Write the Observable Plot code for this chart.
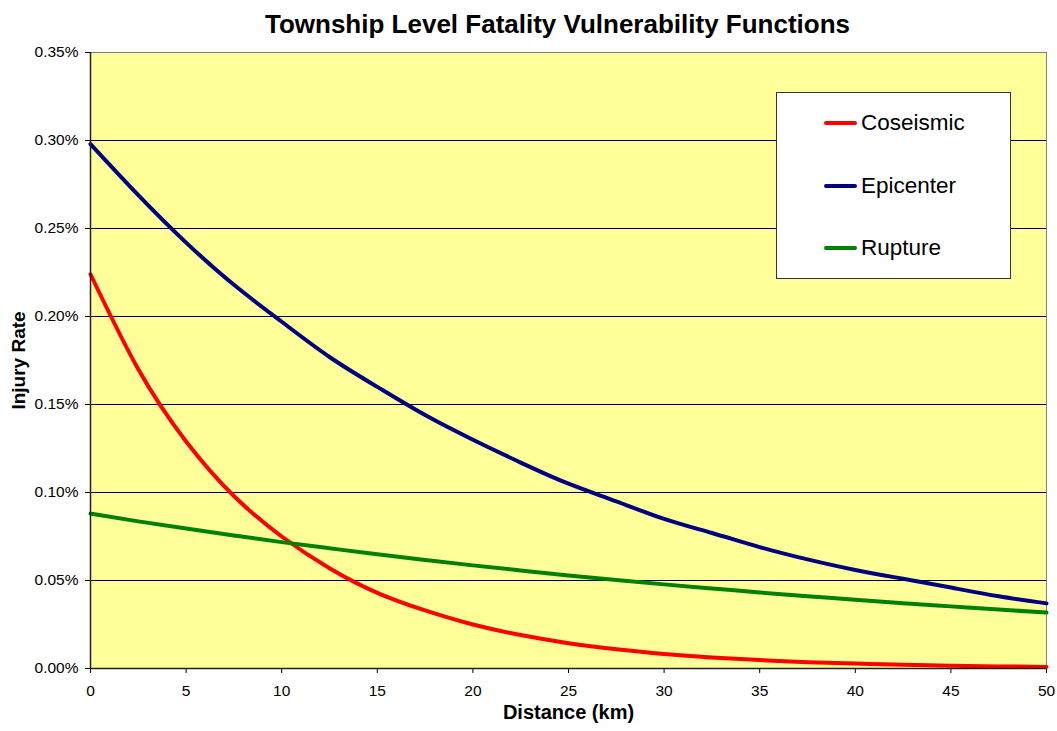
<!DOCTYPE html>
<html>
<head>
<meta charset="utf-8">
<script src="https://cdn.jsdelivr.net/npm/d3@7"></script>
<script src="https://cdn.jsdelivr.net/npm/@observablehq/plot@0.6"></script>
<style>
  body { margin: 0; background: #fff; font-family: Arial, "Liberation Sans", sans-serif; }
  #wrap { position: relative; width: 1057px; height: 731px; }
  #legend { position: absolute; left: 776px; top: 92px; width: 233px; height: 185px; border: 1px solid #333; background: #fff; }
  .row { position: absolute; left: 0; height: 30px; }
  .sw { position: absolute; left: 47px; width: 33px; height: 4px; border-radius: 2px; }
  .lab { position: absolute; left: 84px; font-size: 22.5px; color: #000; white-space: nowrap; line-height: 30px; top: 0; }
</style>
</head>
<body>
<div id="wrap"></div>
<script>
const title = "Township Level Fatality Vulnerability Functions";
const xLabel = "Distance (km)";
const yLabel = "Injury Rate";
const seriesNames = ["Coseismic", "Epicenter", "Rupture"];
const seriesColors = ["#FF0000", "#000080", "#008000"];
const distance = [0, 2.5, 5, 7.5, 10, 12.5, 15, 17.5, 20, 22.5, 25, 27.5, 30, 32.5, 35, 37.5, 40, 42.5, 45, 47.5, 50];
// rates in percent
const coseismic = [0.224, 0.170, 0.129, 0.098, 0.075, 0.057, 0.043, 0.033, 0.025, 0.019, 0.0144, 0.011, 0.0083, 0.0063, 0.0048, 0.0036, 0.0028, 0.0021, 0.0016, 0.0012, 0.0009];
const epicenter = [0.298, 0.269, 0.242, 0.218, 0.197, 0.177, 0.160, 0.144, 0.130, 0.117, 0.105, 0.095, 0.085, 0.077, 0.069, 0.062, 0.056, 0.051, 0.046, 0.041, 0.037];
const rupture = [0.088, 0.0836, 0.0795, 0.0756, 0.0718, 0.0683, 0.0649, 0.0617, 0.0586, 0.0557, 0.0529, 0.0503, 0.0478, 0.0455, 0.0432, 0.0411, 0.0390, 0.0371, 0.0353, 0.0335, 0.0318];
const xTicks = [0, 5, 10, 15, 20, 25, 30, 35, 40, 45, 50];
const yTicks = [0, 0.05, 0.10, 0.15, 0.20, 0.25, 0.30, 0.35];

const seriesValues = [coseismic, epicenter, rupture];
const data = [];
seriesNames.forEach((name, i) => {
  distance.forEach((d, j) => data.push({series: name, distance: d, rate: seriesValues[i][j]}));
});

const chart = Plot.plot({
  width: 1057,
  height: 731,
  marginTop: 52,
  marginBottom: 63,
  marginLeft: 90,
  marginRight: 11,
  style: {fontFamily: "Arial, 'Liberation Sans', sans-serif", background: "#fff", color: "#000"},
  x: {domain: [0, 50], ticks: xTicks, label: null},
  y: {domain: [0, 0.35], ticks: yTicks, label: null},
  color: {domain: seriesNames, range: seriesColors},
  marks: [
    Plot.frame({fill: "#FFFF99", stroke: "#808080", strokeWidth: 1}),
    Plot.gridY(yTicks.filter(v => v > 0 && v < 0.35), {stroke: "#000", strokeOpacity: 1, strokeWidth: 1}),
    Plot.axisY({ticks: yTicks, tickSize: 5, tickPadding: 7, fontSize: 15.5, tickFormat: d => d.toFixed(2) + "%", label: null, stroke: "#000"}),
    Plot.axisX({ticks: xTicks, tickSize: 5, tickPadding: 11, fontSize: 15.5, label: null, stroke: "#000"}),
    Plot.line(data, {x: "distance", y: "rate", z: "series", stroke: "series", strokeWidth: 4, curve: "natural"}),
    Plot.ruleX([0], {stroke: "#222", strokeWidth: 1.5}),
    Plot.ruleY([0], {stroke: "#222", strokeWidth: 1.5}),
    Plot.text([title], {frameAnchor: "top", dx: -11, dy: -38, fontSize: 26, fontWeight: "bold", textAnchor: "middle"}),
    Plot.text([xLabel], {frameAnchor: "bottom", dy: 50, fontSize: 20, fontWeight: "bold", textAnchor: "middle"}),
    Plot.text([yLabel], {frameAnchor: "left", dx: -72, dy: 0, rotate: -90, fontSize: 19, fontWeight: "bold", textAnchor: "middle"})
  ]
});

const wrap = document.getElementById("wrap");
wrap.appendChild(chart);
const legend = document.createElement("div");
legend.id = "legend";
const rowTops = [15, 78, 140];
seriesNames.forEach((name, i) => {
  const row = document.createElement("div");
  row.className = "row";
  row.style.top = rowTops[i] + "px";
  row.style.width = "100%";
  const sw = document.createElement("div");
  sw.className = "sw";
  sw.style.background = seriesColors[i];
  sw.style.top = "13px";
  const lab = document.createElement("div");
  lab.className = "lab";
  lab.textContent = name;
  row.appendChild(sw);
  row.appendChild(lab);
  legend.appendChild(row);
});
wrap.appendChild(legend);
</script>
</body>
</html>
